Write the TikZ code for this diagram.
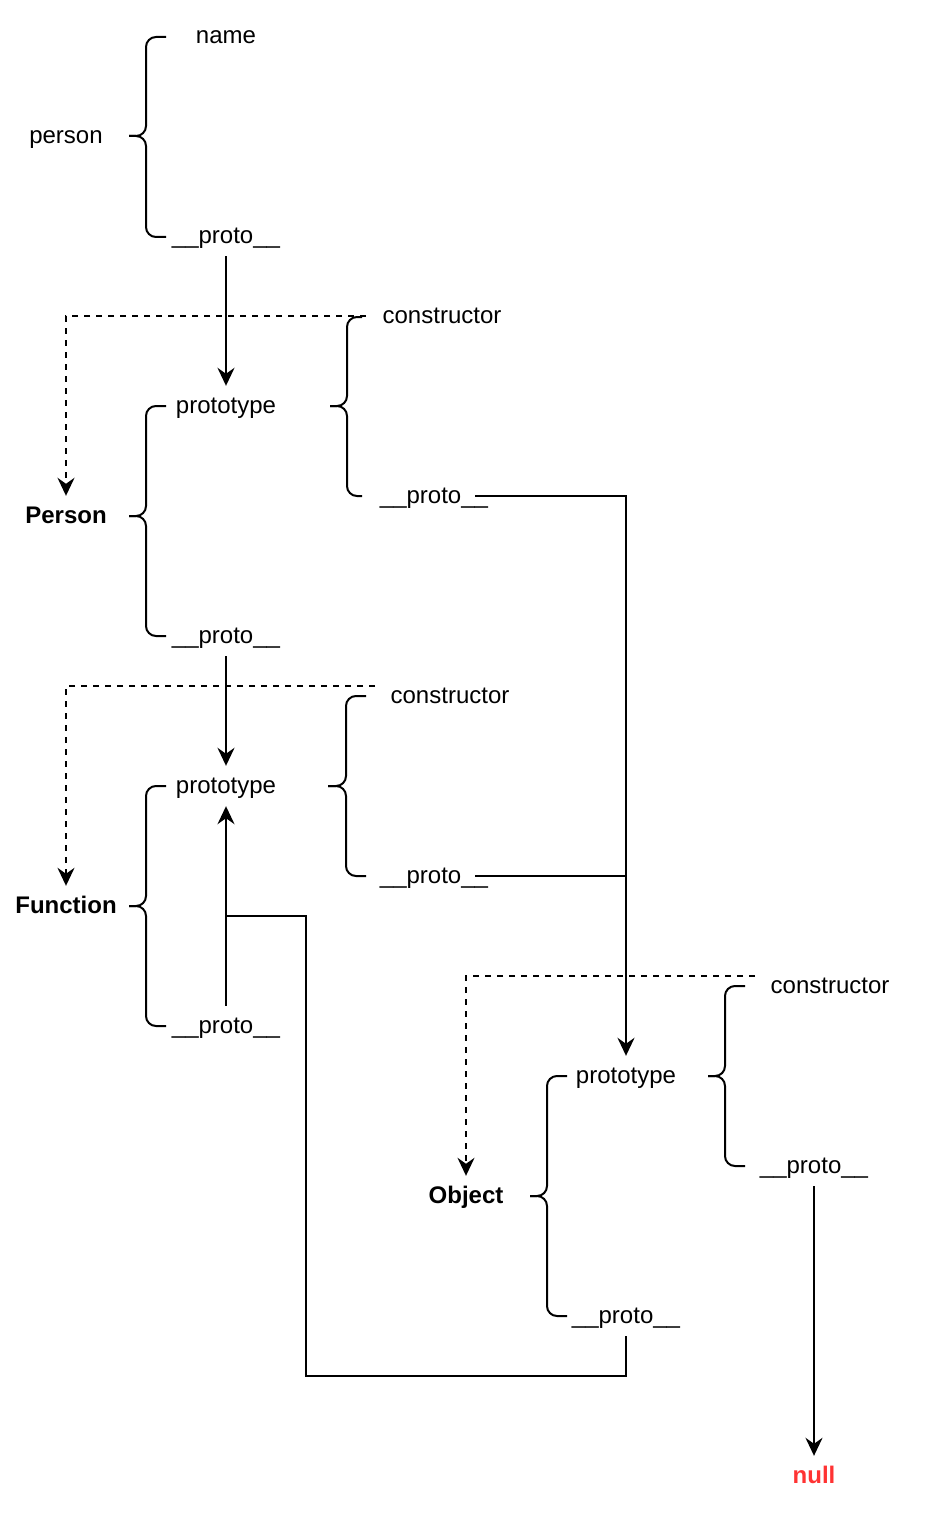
\documentclass[tikz,border=0pt]{standalone}
\usepackage{fontspec}
\setmainfont{Liberation Sans}
\usetikzlibrary{arrows.meta}
\definecolor{nullred}{HTML}{FF3333}
\newcommand\brc[6]{%
  \draw[brcline] (#1,#4) -- (#2,#4) -- (#2,#5) -- (#3,#5);
  \draw[brcline] (#1,#6) -- (#2,#6) -- (#2,#5) -- (#3,#5);}
\tikzset{
  txt/.style={inner sep=0pt, minimum height=40pt, text height=20pt, text depth=5pt, font=\fontsize{24}{28}\selectfont},
  boldtxt/.style={txt, font=\fontsize{24}{28}\selectfont\bfseries},
  brcline/.style={line width=2pt, rounded corners=10pt},
  link/.style={line width=2.2pt},
  arr/.style={link, -{Stealth[length=18pt,width=17pt,inset=6pt]}},
  darr/.style={arr, dash pattern=on 6pt off 6pt, line width=1.9pt},
}
\begin{document}
\begin{tikzpicture}[x=1pt,y=-1pt]
\useasboundingbox (0,0) rectangle (924,1514);
% person
\node[txt] (person) at (66,136) {person};
\node[txt] (pname) at (226,36) {name};
\node[txt] (pproto) at (226,236) {\_\_proto\_\_};
\brc{166}{146}{129}{37}{136}{237}
% Person
\node[boldtxt] (Person) at (66,516) {Person};
\node[txt] (Pprot) at (226,406) {prototype};
\node[txt] (Pproto) at (226,636) {\_\_proto\_\_};
\brc{166}{146}{129}{406}{516}{636}
\node[txt] (Pctor) at (442,316) {constructor};
\node[txt] (PPproto) at (434,496) {\_\_proto\_\_};
\brc{362}{347}{330}{317}{406}{496}
% Function
\node[boldtxt] (Function) at (66,906) {Function};
\node[txt] (Fprot) at (226,786) {prototype};
\node[txt] (Fproto) at (226,1026) {\_\_proto\_\_};
\brc{166}{146}{129}{786}{906}{1026}
\node[txt] (Fctor) at (450,696) {constructor};
\node[txt] (FPproto) at (434,876) {\_\_proto\_\_};
\brc{366}{346}{328}{696}{786}{876}
% Object
\node[boldtxt] (Object) at (466,1196) {Object};
\node[txt] (Oprot) at (626,1076) {prototype};
\node[txt] (Oproto) at (626,1316) {\_\_proto\_\_};
\brc{567}{547}{530}{1076}{1196}{1316}
\node[txt] (Octor) at (830,986) {constructor};
\node[txt] (OPproto) at (814,1166) {\_\_proto\_\_};
\brc{745}{725}{708}{986}{1076}{1166}
% null
\node[boldtxt, text=nullred] (null) at (814,1476) {null};

% coordinates
\coordinate (dc1) at (366,316);
\coordinate (dc2) at (375,686);
\coordinate (dc3) at (755,976);
\coordinate (s1) at (475,496);
\coordinate (s2) at (475,876);
\coordinate (j1) at (626,496);
\coordinate (j2) at (626,876);
\coordinate (br) at (226,916);
\coordinate (c1) at (626,1376);
\coordinate (c2) at (306,1376);
\coordinate (c3) at (306,916);

% constructor links
\draw[darr] (dc1) -| (Person.north);
\draw[darr] (dc2) -| (Function.north);
\draw[darr] (dc3) -| (Object.north);

% __proto__ links
\draw[arr] (pproto.south) -- (Pprot.north);
\draw[arr] (Pproto.south) -- (Fprot.north);
\draw[arr] (Fproto.north) -- (Fprot.south);
\draw[arr] (s1) -- (j1) -- (Oprot.north);
\draw[link] (s2) -- (j2);
\draw[link] (Oproto.south) -- (c1) -- (c2) -- (c3) -- (br);
\draw[arr] (OPproto.south) -- (null.north);
\end{tikzpicture}
\end{document}
